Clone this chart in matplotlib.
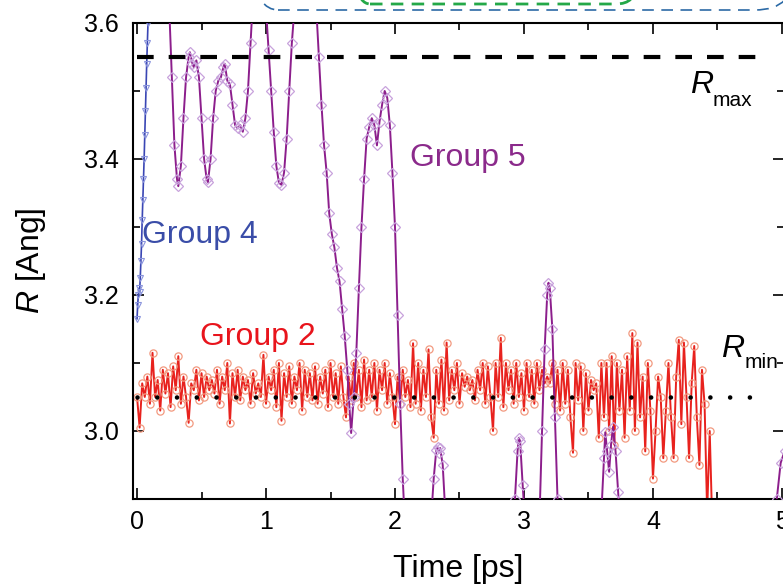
import numpy as np
import matplotlib
matplotlib.use('Agg')
import matplotlib.pyplot as plt
from matplotlib.patches import FancyBboxPatch
from matplotlib.transforms import IdentityTransform
from matplotlib.ticker import MultipleLocator

plt.rcParams['font.family'] = ['Liberation Sans', 'DejaVu Sans']
plt.rcParams['mathtext.fontset'] = 'custom'
plt.rcParams['mathtext.rm'] = 'Liberation Sans'
plt.rcParams['mathtext.it'] = 'Liberation Sans:italic'

# ---------------- data ----------------
# Group 2 (red), sampled every 0.02 ps from t = 0
red_step = 0.02
red_values = [
    3.05, 3.005, 3.07, 3.05, 3.08, 3.04, 3.115, 3.05, 3.075, 3.03, 3.09, 3.055, 3.085,
    3.035, 3.095, 3.06, 3.11, 3.04, 3.08, 3.05, 3.012, 3.07, 3.06, 3.09, 3.045,
    3.085, 3.05, 3.08, 3.06, 3.075, 3.055, 3.09, 3.04, 3.08, 3.06, 3.10, 3.011, 3.085,
    3.05, 3.09, 3.045, 3.08, 3.06, 3.075, 3.04, 3.085, 3.055, 3.07, 3.05, 3.112,
    3.04, 3.08, 3.06, 3.09, 3.035, 3.10, 3.015, 3.085, 3.05, 3.095, 3.04, 3.08, 3.06,
    3.10, 3.03, 3.09, 3.05, 3.085, 3.045, 3.095, 3.04, 3.08, 3.055, 3.09, 3.035,
    3.10, 3.05, 3.085, 3.04, 3.095, 3.05, 3.02, 3.08, 3.045, 3.10, 3.05, 3.09, 3.035,
    3.105, 3.045, 3.09, 3.05, 3.10, 3.03, 3.09, 3.06, 3.10, 3.04, 3.085, 3.05,
    3.01, 3.08, 3.04, 3.09, 3.05, 3.075, 3.035, 3.129, 3.04, 3.10, 3.03, 3.09, 3.05,
    3.12, 3.02, 2.99, 3.09, 3.04, 3.105, 3.03, 3.13, 3.045, 3.09, 3.06, 3.10,
    3.04, 3.085, 3.065, 3.08, 3.06, 3.075, 3.045, 3.09, 3.06, 3.10, 3.04, 3.095, 3.05,
    3.00, 3.10, 3.05, 3.137, 3.035, 3.10, 3.06, 3.09, 3.04, 3.10, 3.05, 3.085,
    3.03, 3.10, 3.05, 3.09, 3.04, 3.10, 3.06, 3.09, 3.07, 3.08, 3.07, 3.10, 3.04,
    3.09, 3.03, 3.10, 3.04, 3.09, 3.02, 2.968, 3.10, 3.045, 3.095, 3.00, 3.085,
    3.03, 3.075, 3.06, 3.07, 2.99, 3.10, 3.02, 3.10, 3.00, 3.11, 2.98, 3.10, 3.03,
    3.09, 2.99, 3.11, 3.03, 3.144, 3.00, 3.13, 3.02, 3.08, 2.97, 3.10, 3.03,
    2.93, 3.00, 3.08, 3.05, 2.96, 3.03, 3.10, 3.02, 2.96, 3.08, 3.134, 3.01, 3.13,
    3.05, 2.96, 3.07, 3.125, 3.02, 2.95, 3.09, 3.04, 2.88, 3.00, 2.86, 2.80,
]
red_t = np.arange(len(red_values)) * red_step

# Group 5 (purple)
purple_t = [
    0.22, 0.25, 0.27, 0.29, 0.31, 0.32, 0.34, 0.36, 0.38, 0.40, 0.41, 0.43, 0.44, 0.46,
    0.48, 0.50, 0.52, 0.54, 0.55, 0.57, 0.59, 0.61, 0.63, 0.65, 0.67, 0.68, 0.70, 0.72,
    0.74, 0.76, 0.78, 0.80, 0.82, 0.84, 0.86, 0.88, 0.90, 0.93, 0.97, 1.00, 1.02, 1.04,
    1.06, 1.08, 1.10, 1.12, 1.14, 1.16, 1.18, 1.20, 1.22, 1.25, 1.35, 1.39, 1.41, 1.43,
    1.45, 1.47, 1.49, 1.51, 1.53, 1.55, 1.57, 1.59, 1.61, 1.63, 1.645, 1.66, 1.68, 1.70,
    1.72, 1.74, 1.76, 1.78, 1.80, 1.82, 1.84, 1.86, 1.88, 1.90, 1.92, 1.94, 1.96, 1.98,
    2.00, 2.02, 2.04, 2.06, 2.08, 2.20, 2.28, 2.30, 2.32, 2.33, 2.34, 2.35, 2.37, 2.39,
    2.45, 2.90, 2.93, 2.95, 2.96, 2.97, 2.99, 3.01, 3.10, 3.12, 3.14, 3.16, 3.18, 3.19,
    3.20, 3.22, 3.24, 3.26, 3.28, 3.55, 3.60, 3.62, 3.63, 3.645, 3.66, 3.675, 3.69, 3.71,
    3.73, 3.75, 4.90, 4.96, 4.99, 5.02,
]
purple_values = [
    3.70, 3.62, 3.52, 3.42, 3.37, 3.36, 3.39, 3.46, 3.52, 3.55, 3.557, 3.54, 3.535, 3.545,
    3.52, 3.46, 3.40, 3.37, 3.366, 3.40, 3.46, 3.50, 3.515, 3.52, 3.535, 3.54, 3.515, 3.51,
    3.48, 3.45, 3.445, 3.45, 3.44, 3.46, 3.50, 3.57, 3.64, 3.75, 3.75, 3.62, 3.56, 3.50,
    3.44, 3.39, 3.365, 3.362, 3.38, 3.43, 3.50, 3.57, 3.62, 3.75, 3.75, 3.62, 3.55, 3.48,
    3.42, 3.38, 3.32, 3.29, 3.27, 3.24, 3.22, 3.18, 3.14, 3.09, 3.04, 2.997, 3.05, 3.115,
    3.21, 3.30, 3.37, 3.43, 3.447, 3.46, 3.45, 3.42, 3.455, 3.48, 3.50, 3.49, 3.45, 3.38,
    3.30, 3.17, 3.04, 2.93, 2.85, 2.80, 2.87, 2.93, 2.972, 2.976, 2.968, 2.975, 2.95, 2.88,
    2.80, 2.80, 2.90, 2.97, 2.99, 2.985, 2.92, 2.86, 2.80, 2.87, 3.00, 3.12, 3.20, 3.218,
    3.21, 3.15, 3.02, 2.90, 2.82, 2.80, 2.88, 2.96, 2.998, 2.97, 2.94, 2.98, 3.006, 2.97,
    2.91, 2.85, 2.80, 2.90, 2.953, 2.97,
]

# Group 4 (blue)
blue_t = [0.000, 0.005, 0.010, 0.015, 0.020, 0.025, 0.030, 0.035, 0.040, 0.045,
          0.050, 0.055, 0.060, 0.065, 0.070, 0.075, 0.080, 0.085, 0.090]
blue_values = [3.165, 3.185, 3.20, 3.21, 3.205, 3.225, 3.25, 3.275, 3.31, 3.34,
               3.37, 3.40, 3.435, 3.47, 3.505, 3.54, 3.57, 3.60, 3.635]

r_max = 3.55
r_min = 3.05
ref_t = [0.0, 4.88]

x_ticks = [0, 1, 2, 3, 4, 5]
y_ticks = [3.0, 3.2, 3.4, 3.6]
y_tick_labels = ['3.0', '3.2', '3.4', '3.6']

# ---------------- figure ----------------
fig = plt.figure(figsize=(7.83, 5.86), dpi=100)
ax = fig.add_axes([0.1699, 0.1485, 0.8314, 0.8123])

red_c = '#E8221E'
purple_c = '#8C1E8C'
blue_c = '#3A46B4'

ax.plot(red_t, red_values, '-', color=red_c, lw=1.4, marker='o', ms=5.2,
        mfc='none', mec='#F29A80', mew=0.9, zorder=2)
ax.plot(purple_t, purple_values, '-', color=purple_c, lw=1.4, marker='D', ms=4.6,
        mfc='none', mec='#C8A2DC', mew=0.9, zorder=3)
ax.plot(blue_t, blue_values, '-', color=blue_c, lw=1.2, marker='v', ms=5,
        mfc='none', mec='#8A94DC', mew=0.8, zorder=4)

ax.plot(ref_t, [r_max, r_max], color='black', lw=3, dashes=(4, 3.6), zorder=5)
ax.plot(ref_t, [r_min, r_min], color='black', lw=3.3, dashes=(0.01, 4.3),
        dash_capstyle='round', zorder=5)

ax.set_xlim(-0.031, 5.016)
ax.set_ylim(2.9, 3.6)
ax.set_xticks(x_ticks)
ax.set_yticks(y_ticks)
ax.set_yticklabels(y_tick_labels)
ax.xaxis.set_minor_locator(MultipleLocator(0.5))
ax.yaxis.set_minor_locator(MultipleLocator(0.1))
ax.tick_params(which='both', direction='in', top=True, right=True, width=1.2)
ax.tick_params(which='major', length=8, labelsize=18)
ax.tick_params(which='minor', length=5)
ax.tick_params(axis='x', pad=8)
ax.tick_params(axis='y', pad=10)
for s in ax.spines.values():
    s.set_linewidth(1.5)

ax.set_xlabel('Time [ps]', fontsize=23, labelpad=14)
ax.set_ylabel(r'$R$ [Ang]', fontsize=23, labelpad=26)

ax.text(2.12, 3.39, 'Group 5', color='#8B2A8B', fontsize=23, ha='left', va='baseline')
ax.text(0.04, 3.276, 'Group 4', color='#3A4DA8', fontsize=23, ha='left', va='baseline')
ax.text(0.49, 3.126, 'Group 2', color='#E8141C', fontsize=23, ha='left', va='baseline')

# R_max / R_min labels: italic R with a lowered subscript
ax.text(4.287, 3.497, 'R', style='italic', color='black', fontsize=23,
        ha='left', va='baseline')
ax.text(4.465, 3.478, 'max', color='black', fontsize=15, ha='left', va='baseline')
ax.text(4.53, 3.109, 'R', style='italic', color='black', fontsize=23,
        ha='left', va='baseline')
ax.text(4.708, 3.093, 'min', color='black', fontsize=15, ha='left', va='baseline')

# dashed outlines peeking in above the axes (pixel coordinates)
H = 586
blue_box = FancyBboxPatch((238, H - 10), 557, 200,
                          boxstyle='round,pad=0,rounding_size=40',
                          transform=IdentityTransform(), fill=False,
                          edgecolor='#2C6AA6', lw=1.2, linestyle=(0, (7, 4.5)),
                          clip_on=False)
green_box = FancyBboxPatch((350, H - 4), 286, 100,
                           boxstyle='round,pad=0,rounding_size=20',
                           transform=IdentityTransform(), fill=False,
                           edgecolor='#24A848', lw=2.0, linestyle=(0, (4.5, 3)),
                           clip_on=False)
fig.add_artist(blue_box)
fig.add_artist(green_box)

fig.savefig('out.png', dpi=100)
